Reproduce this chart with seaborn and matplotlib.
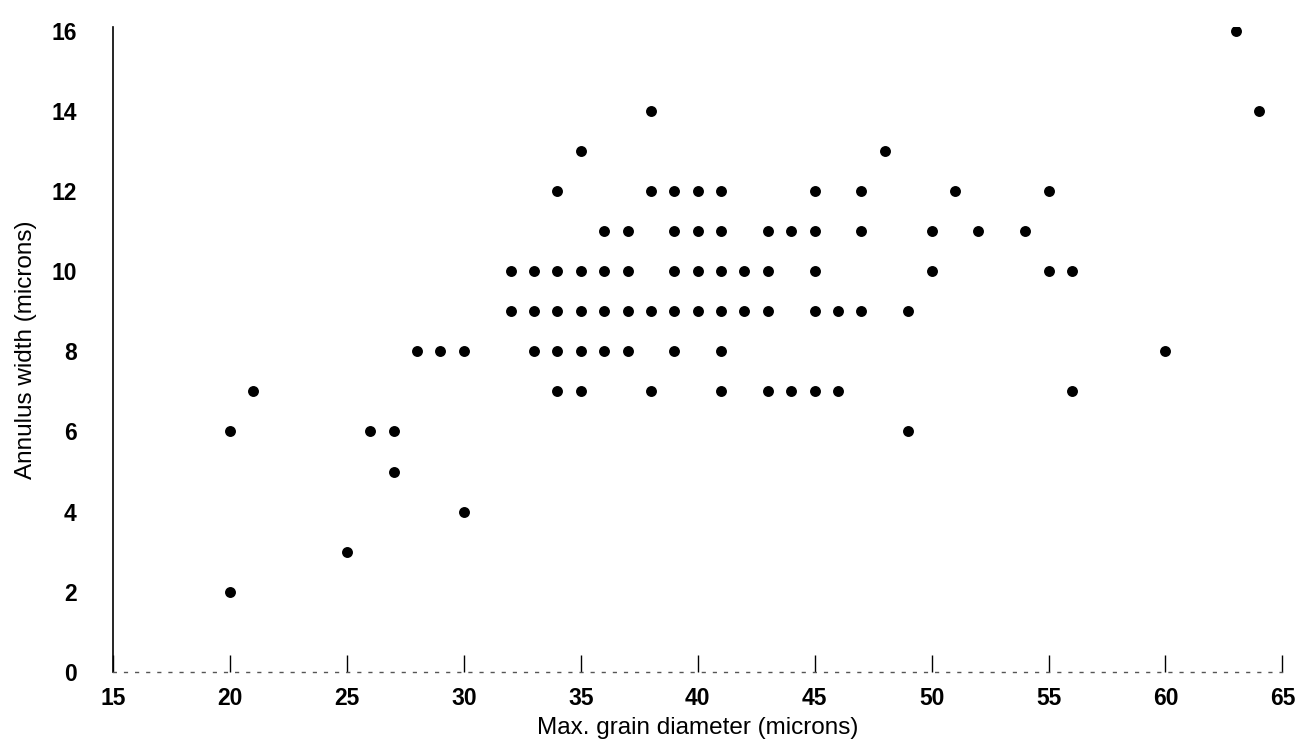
import matplotlib
matplotlib.use("Agg")
import matplotlib.pyplot as plt
import seaborn as sns
import pandas as pd

# Max. grain diameter (microns)
grain_diameter = [
    20, 20, 21,
    25, 26, 27, 27, 28, 29, 30, 30,
    32, 32, 33, 33, 33,
    34, 34, 34, 34, 34,
    35, 35, 35, 35, 35,
    36, 36, 36, 36,
    37, 37, 37, 37,
    38, 38, 38, 38,
    39, 39, 39, 39, 39,
    40, 40, 40, 40,
    41, 41, 41, 41, 41, 41,
    42, 42,
    43, 43, 43, 43,
    44, 44,
    45, 45, 45, 45, 45,
    46, 46,
    47, 47, 47,
    48,
    49, 49,
    50, 50,
    51, 52, 54,
    55, 55,
    56, 56,
    60,
    63, 64,
]
# Annulus width (microns)
annulus_width = [
    6, 2, 7,
    3, 6, 6, 5, 8, 8, 8, 4,
    10, 9, 10, 9, 8,
    12, 10, 9, 8, 7,
    13, 10, 9, 8, 7,
    11, 10, 9, 8,
    11, 10, 9, 8,
    14, 12, 9, 7,
    12, 11, 10, 9, 8,
    12, 11, 10, 9,
    12, 11, 10, 9, 8, 7,
    10, 9,
    11, 10, 9, 7,
    11, 7,
    12, 11, 10, 9, 7,
    9, 7,
    12, 11, 9,
    13,
    9, 6,
    11, 10,
    12, 11, 11,
    12, 10,
    10, 7,
    8,
    16, 14,
]
x_ticks = [15, 20, 25, 30, 35, 40, 45, 50, 55, 60, 65]
y_ticks = [0, 2, 4, 6, 8, 10, 12, 14, 16]

df = pd.DataFrame({"diam": grain_diameter, "width": annulus_width})

sns.set_theme(style="white")
plt.rcParams["font.family"] = ["Liberation Sans", "DejaVu Sans"]

fig = plt.figure(figsize=(12.98, 7.40), dpi=100)
ax = fig.add_axes([0.087, 0.092, 0.901, 0.872])

sns.scatterplot(data=df, x="diam", y="width", ax=ax, color="black",
                s=62, edgecolor="black", linewidth=0, legend=False)

ax.set_xlim(15, 65)
ax.set_ylim(0, 16.1)
ax.set_xticks(x_ticks)
ax.set_yticks(y_ticks)
ax.set_xticklabels([str(t) for t in x_ticks], fontsize=16.5, fontweight="bold",
                   color="black")
ax.set_yticklabels([str(t) for t in y_ticks], fontsize=16.5, fontweight="bold",
                   color="black")

ax.tick_params(axis="x", direction="in", length=12, width=1.0, color="black",
               pad=11, bottom=True)
ax.tick_params(axis="y", length=0, pad=26, left=True)

for side in ("top", "right"):
    ax.spines[side].set_visible(False)
ax.spines["left"].set_color("black")
ax.spines["left"].set_linewidth(1.2)
ax.spines["bottom"].set_color("#555555")
ax.spines["bottom"].set_linewidth(1.0)
ax.spines["bottom"].set_linestyle((0, (2, 6)))

ax.set_xlabel("Max. grain diameter (microns)", fontsize=17.5, labelpad=5,
              color="black")
ax.set_ylabel("Annulus width (microns)", fontsize=17.5, labelpad=10,
              color="black")

fig.savefig("out.png", dpi=100, facecolor="white")
